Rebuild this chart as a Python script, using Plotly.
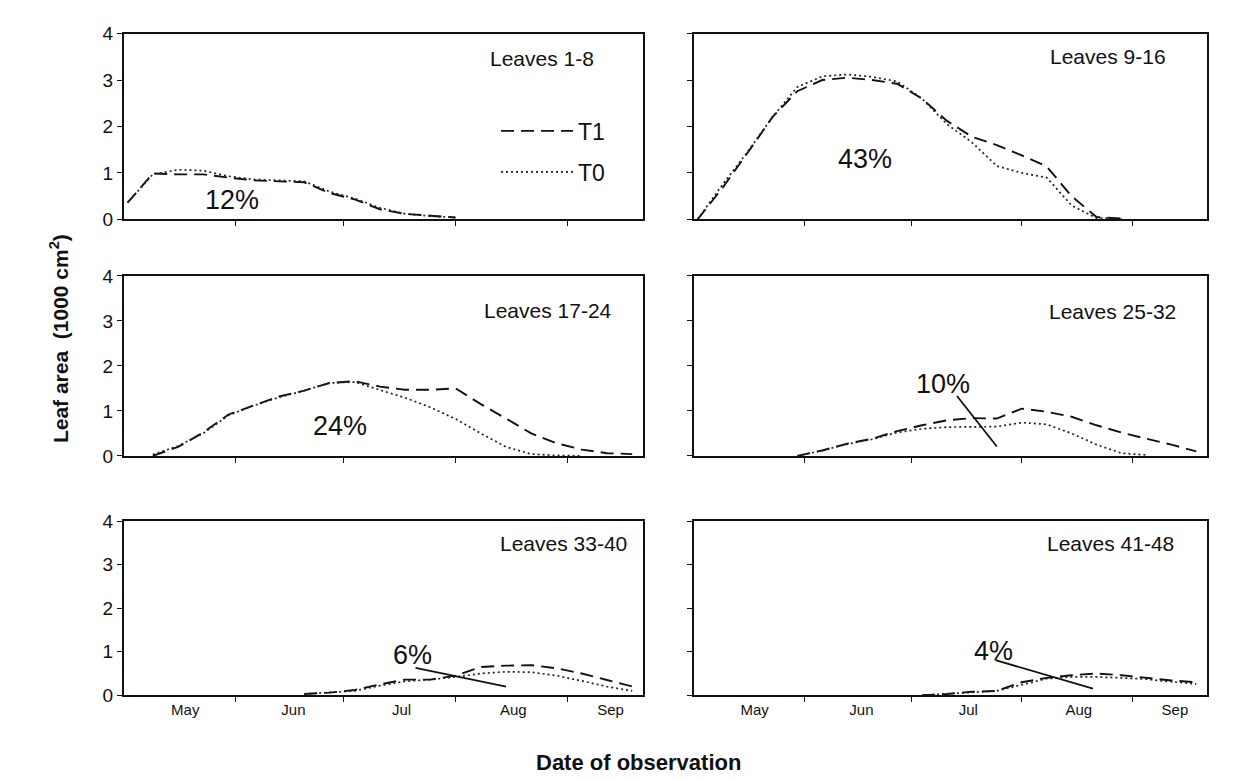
import plotly.graph_objects as go

obs_dates = ["2000-05-02", "2000-05-09", "2000-05-16", "2000-05-23", "2000-05-30",
             "2000-06-06", "2000-06-13", "2000-06-20", "2000-06-27",
             "2000-07-04", "2000-07-11", "2000-07-18", "2000-07-25",
             "2000-08-01", "2000-08-08", "2000-08-15", "2000-08-22", "2000-08-29",
             "2000-09-05", "2000-09-12", "2000-09-19"]
N = None

leaves_1_8_T1 = [0.36, 0.99, 0.97, 0.97, 0.90, 0.84, 0.82, 0.80, 0.57, 0.43, 0.22, 0.12, 0.08, 0.04, N, N, N, N, N, N, N]
leaves_1_8_T0 = [0.36, 0.97, 1.07, 1.05, 0.93, 0.86, 0.84, 0.82, 0.60, 0.45, 0.25, 0.12, 0.07, 0.04, N, N, N, N, N, N, N]

leaves_9_16_T1 = [0.0, 0.68, 1.43, 2.20, 2.76, 3.00, 3.05, 3.00, 2.92, 2.60, 2.12, 1.78, 1.60, 1.38, 1.14, 0.50, 0.05, 0.02, N, N, N]
leaves_9_16_T0 = [0.0, 0.75, 1.45, 2.20, 2.85, 3.08, 3.12, 3.07, 2.97, 2.60, 2.05, 1.66, 1.15, 1.00, 0.90, 0.30, 0.03, 0.02, N, N, N]

leaves_17_24_T1 = [N, 0.0, 0.20, 0.52, 0.92, 1.12, 1.32, 1.45, 1.62, 1.66, 1.54, 1.47, 1.47, 1.50, 1.15, 0.83, 0.50, 0.28, 0.14, 0.06, 0.04]
leaves_17_24_T0 = [N, 0.03, 0.22, 0.50, 0.90, 1.12, 1.30, 1.45, 1.62, 1.64, 1.47, 1.29, 1.08, 0.82, 0.50, 0.20, 0.04, 0.01, 0.0, N, N]

leaves_25_32_T1 = [N, N, N, N, 0.0, 0.12, 0.27, 0.38, 0.55, 0.68, 0.79, 0.84, 0.83, 1.05, 0.98, 0.87, 0.68, 0.52, 0.38, 0.25, 0.10]
leaves_25_32_T0 = [N, N, N, N, 0.0, 0.12, 0.26, 0.37, 0.52, 0.60, 0.64, 0.64, 0.65, 0.74, 0.70, 0.50, 0.25, 0.06, 0.02, N, N]

leaves_33_40_T1 = [N, N, N, N, N, N, N, 0.03, 0.06, 0.12, 0.25, 0.36, 0.36, 0.45, 0.65, 0.68, 0.69, 0.62, 0.50, 0.35, 0.20]
leaves_33_40_T0 = [N, N, N, N, N, N, N, 0.03, 0.06, 0.10, 0.22, 0.32, 0.36, 0.42, 0.50, 0.54, 0.53, 0.45, 0.33, 0.20, 0.10]

leaves_41_48_T1 = [N, N, N, N, N, N, N, N, N, 0.0, 0.03, 0.08, 0.10, 0.30, 0.40, 0.46, 0.50, 0.46, 0.40, 0.34, 0.30]
leaves_41_48_T0 = [N, N, N, N, N, N, N, N, N, 0.0, 0.03, 0.07, 0.10, 0.24, 0.38, 0.42, 0.42, 0.40, 0.37, 0.31, 0.26]

month_labels = ["May", "Jun", "Jul", "Aug", "Sep"]
month_label_dates = ["2000-05-18", "2000-06-17", "2000-07-17", "2000-08-17", "2000-09-13"]
month_starts = ["2000-06-01", "2000-07-01", "2000-08-01", "2000-09-01"]

panel_titles = ["Leaves 1-8", "Leaves 9-16", "Leaves 17-24", "Leaves 25-32", "Leaves 33-40", "Leaves 41-48"]
panel_t1 = [leaves_1_8_T1, leaves_9_16_T1, leaves_17_24_T1, leaves_25_32_T1, leaves_33_40_T1, leaves_41_48_T1]
panel_t0 = [leaves_1_8_T0, leaves_9_16_T0, leaves_17_24_T0, leaves_25_32_T0, leaves_33_40_T0, leaves_41_48_T0]
pct_labels = ["12%", "43%", "24%", "10%", "6%", "4%"]
pct_pos = [("2000-05-31", 0.42), ("2000-06-18", 1.31), ("2000-06-30", 0.67),
           ("2000-07-10", 1.59), ("2000-07-20", 0.93), ("2000-07-24", 1.02)]
# pointer lines: (tip date, tip value, tail dx px, tail dy px)
pointers = [None, None, None,
            ("2000-07-25", 0.21, -41, -52),
            ("2000-08-15", 0.20, -92, -19),
            ("2000-08-21", 0.15, -99, -29)]
title_pos = [(0.909, 0.864), (0.924, 0.875), (0.944, 0.805), (0.943, 0.80), (0.973, 0.872), (0.94, 0.872)]

W, H = 1248, 780
xdom = [[116 / W, 635 / W], [686 / W, 1199 / W]]
rows_px = [(16, 207), (265, 450), (517, 696)]
ydom = [[1 - b / H, 1 - t / H] for t, b in rows_px]

FONT = "Arial, Liberation Sans, sans-serif"
INK = "#111"
fig = go.Figure()
layout = dict(width=W, height=H, margin=dict(l=0, r=0, t=0, b=0),
              paper_bgcolor="white", plot_bgcolor="white",
              font=dict(family=FONT, color=INK), showlegend=True)
annotations = []

for i in range(6):
    r, c = divmod(i, 2)
    k = i + 1
    xa = "x" if k == 1 else f"x{k}"
    ya = "y" if k == 1 else f"y{k}"
    fig.add_trace(go.Scatter(x=obs_dates, y=panel_t1[i], mode="lines", name="T1",
                             line=dict(color=INK, width=1.9, dash="13px,7px"),
                             xaxis=xa, yaxis=ya, showlegend=(i == 0), legendgroup="T1"))
    fig.add_trace(go.Scatter(x=obs_dates, y=panel_t0[i], mode="lines", name="T0",
                             line=dict(color="#222", width=1.7, dash="2px,3px"),
                             xaxis=xa, yaxis=ya, showlegend=(i == 0), legendgroup="T0"))
    layout["xaxis" if k == 1 else f"xaxis{k}"] = dict(
        domain=xdom[c], anchor=ya, type="date",
        range=["2000-05-01", "2000-09-22"],
        tickmode="array", tickvals=month_label_dates, ticktext=month_labels, ticks="",
        minor=dict(tickmode="array", tickvals=month_starts, ticks="outside",
                   ticklen=5, tickcolor=INK, showgrid=False),
        showline=True, linecolor=INK, linewidth=2, mirror=True,
        showgrid=False, zeroline=False, showticklabels=(r == 2),
        tickfont=dict(size=15, color=INK))
    layout["yaxis" if k == 1 else f"yaxis{k}"] = dict(
        domain=ydom[r], anchor=xa, range=[0, 4], dtick=1, tick0=0,
        ticks="outside", ticklen=5, tickcolor=INK,
        showline=True, linecolor=INK, linewidth=2, mirror=True,
        showgrid=False, zeroline=False, showticklabels=(c == 0),
        tickfont=dict(size=19, color=INK))
    tx, ty = title_pos[i]
    annotations.append(dict(text=panel_titles[i], xref=f"{xa} domain", yref=f"{ya} domain",
                            x=tx, y=ty, xanchor="right", yanchor="middle", showarrow=False,
                            font=dict(size=21, color=INK)))
    px_, py_ = pct_pos[i]
    annotations.append(dict(text=pct_labels[i], xref=xa, yref=ya, x=px_, y=py_,
                            xanchor="center", yanchor="middle", showarrow=False,
                            font=dict(size=27, color=INK)))
    if pointers[i]:
        d, v, dx, dy = pointers[i]
        annotations.append(dict(text="", xref=xa, yref=ya, x=d, y=v, ax=dx, ay=dy,
                                showarrow=True, arrowhead=0, arrowwidth=1.8,
                                arrowcolor=INK, standoff=0))

annotations.append(dict(text="<b>Leaf area\u00a0 (1000 cm<sup>2</sup>)</b>", xref="paper", yref="paper",
                        x=51 / W, y=1 - 330 / H, textangle=-90, showarrow=False,
                        xanchor="center", yanchor="middle", font=dict(size=21, color=INK)))
annotations.append(dict(text="<b>Date of observation</b>", xref="paper", yref="paper",
                        x=630 / W, y=1 - 765 / H, showarrow=False,
                        xanchor="center", yanchor="middle", font=dict(size=22, color=INK)))

layout["annotations"] = annotations
layout["legend"] = dict(x=602 / W, y=1 - 94 / H, xanchor="right", yanchor="top",
                        bgcolor="rgba(0,0,0,0)", font=dict(size=23, color=INK),
                        itemwidth=72, tracegroupgap=8)
fig.update_layout(**layout)
fig.write_html("out.html")
